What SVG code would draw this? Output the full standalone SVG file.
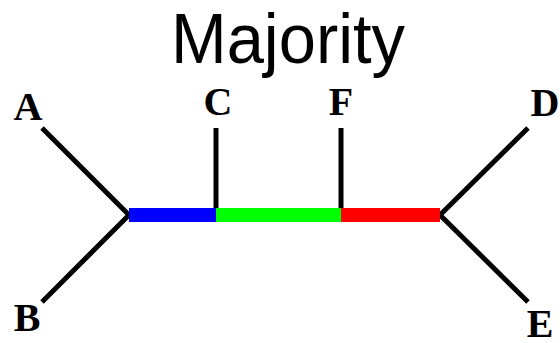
<svg xmlns="http://www.w3.org/2000/svg" width="560" height="343" viewBox="0 0 560 343">
<style>
.lbl{font-family:"Liberation Serif","Times New Roman",serif;font-weight:bold;font-size:40px;text-anchor:middle;fill:#000}
.title{font-family:"Liberation Sans",Arial,sans-serif;font-size:70px;text-anchor:middle;fill:#000}
.edge{stroke:#000;stroke-width:5;fill:none}
.bar{stroke-width:14;fill:none}
</style>
<rect width="560" height="343" fill="#fff"/>
<text class="title" x="288" y="63" textLength="234" lengthAdjust="spacingAndGlyphs">Majority</text>
<g id="connectors">
<line class="edge" x1="42" y1="128" x2="129" y2="215"/>
<line class="edge" x1="42" y1="302" x2="129" y2="215"/>
<line class="edge" x1="216" y1="128" x2="216" y2="210"/>
<line class="edge" x1="341" y1="128" x2="341" y2="210"/>
<line class="edge" x1="528" y1="128" x2="440" y2="215"/>
<line class="edge" x1="528" y1="302" x2="440" y2="215"/>
<line class="bar" x1="129" y1="215" x2="216" y2="215" stroke="#0000ff"/>
<line class="bar" x1="216" y1="215" x2="341" y2="215" stroke="#00ff00"/>
<line class="bar" x1="341" y1="215" x2="440" y2="215" stroke="#ff0000"/>
</g>
<g id="A"><text class="lbl" x="28" y="120">A</text></g>
<g id="B"><text class="lbl" x="27" y="331">B</text></g>
<g id="C"><text class="lbl" x="218" y="115">C</text></g>
<g id="F"><text class="lbl" x="341" y="115">F</text></g>
<g id="D"><text class="lbl" x="545" y="116">D</text></g>
<g id="E"><text class="lbl" x="540" y="337">E</text></g>
</svg>
